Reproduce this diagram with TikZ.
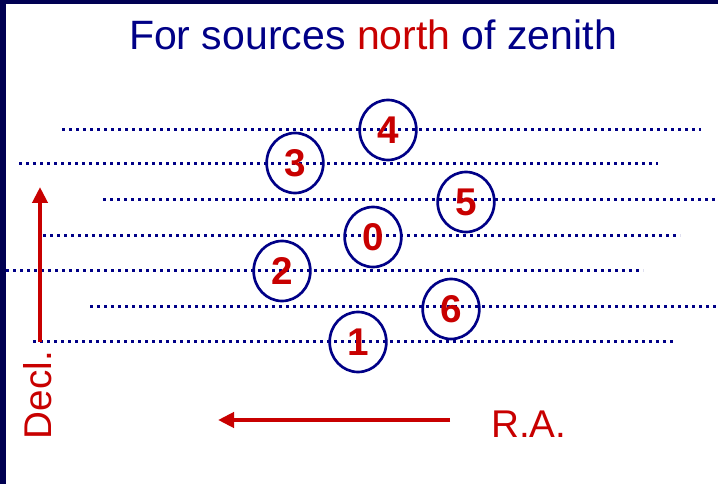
\documentclass[tikz,border=0pt]{standalone}
\usepackage{fontspec}
\setmainfont{Liberation Sans}
\usepackage{tikz}
\usetikzlibrary{positioning,shapes.geometric,arrows.meta}
\usepackage{xcolor}
\definecolor{navyframe}{RGB}{0,0,82}
\definecolor{navyblue}{RGB}{0,0,135}
\definecolor{darkred}{RGB}{200,0,0}

\begin{document}
\begin{tikzpicture}[x=0.03cm, y=-0.03cm,
    scanline/.style={navyblue, line width=0.09cm, dash pattern=on 0.09cm off 0.12cm},
    source/.style={ellipse, draw=navyblue, line width=0.08cm, minimum width=1.7cm,
        minimum height=1.8cm, inner sep=0pt, text=darkred,
        font=\fontsize{33}{33}\selectfont\bfseries},
    axis/.style={darkred, line width=0.12cm, -{Triangle[length=0.48cm,width=0.45cm]}},
    label/.style={text=darkred, font=\fontsize{33}{33}\selectfont}]
    \useasboundingbox (0,0) rectangle (718,484);

    % Frame
    \fill[navyframe] (0,0) rectangle (718,484);
    \fill[white] (6,4) rectangle (718,484);

    % Title
    \node[anchor=base, font=\fontsize{35}{35}\selectfont] (title) at (373,50)
        {\textcolor{navyblue}{For sources} \textcolor{darkred}{north} \textcolor{navyblue}{of zenith}};

    % Scan lines
    \draw[scanline] (62,130) -- (701,130);
    \draw[scanline] (19,164) -- (658,164);
    \draw[scanline] (103,200) -- (718,200);
    \draw[scanline] (43,236) -- (680,236);
    \draw[scanline] (6,271) -- (643,271);
    \draw[scanline] (90,307) -- (718,307);
    \draw[scanline] (33,342) -- (673,342);

    % Sources
    \node[source] (s4) at (388,130) {4};
    \node[source] (s3) at (295,163) {3};
    \node[source] (s5) at (466,202) {5};
    \node[source] (s0) at (373,237) {0};
    \node[source] (s2) at (282,271) {2};
    \node[source] (s6) at (451,309) {6};
    \node[source] (s1) at (358,342) {1};

    % Axes
    \coordinate (decl tail) at (40,342);
    \coordinate (decl head) at (40,187);
    \draw[axis] (decl tail) -- (decl head);
    \node[label, rotate=90] (decl) at (38,395) {Decl.};

    \coordinate (ra tail) at (450,420);
    \coordinate (ra head) at (218,420);
    \draw[axis] (ra tail) -- (ra head);
    \node[label, anchor=base west] (ra) at (487,438) {R.A.};
\end{tikzpicture}
\end{document}
